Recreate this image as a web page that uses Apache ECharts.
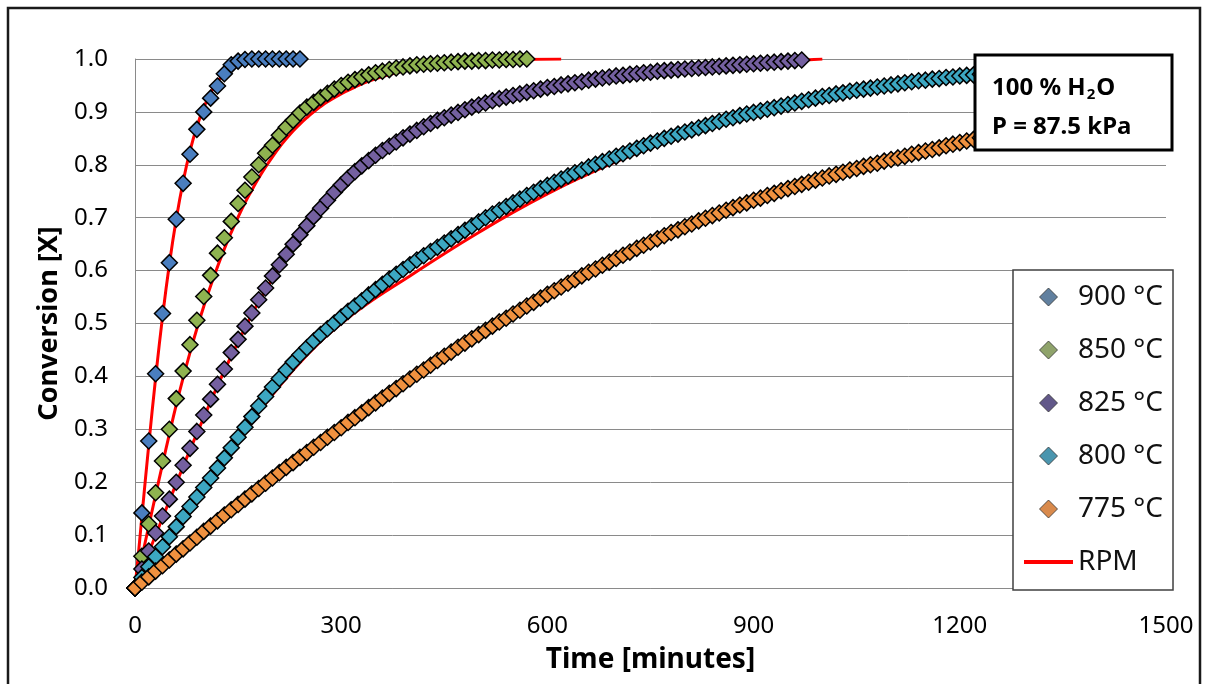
<!DOCTYPE html>
<html>
<head>
<meta charset="utf-8">
<title>Conversion vs time</title>
<script src="https://cdn.jsdelivr.net/npm/echarts@6/dist/echarts.min.js"></script>
<style>
  html, body { margin: 0; padding: 0; background: #fff; }
  #chart { width: 1207px; height: 684px; }
</style>
</head>
<body>
<div id="chart"></div>
<script>
// measured points, one every 10 minutes starting at t = 0
const STEP = 10

const x900 = [0, 0.142, 0.278, 0.405, 0.519, 0.615, 0.697, 0.765, 0.820, 0.867, 0.900, 0.926, 0.949, 0.972, 0.989, 0.996, 0.999,
  1, 1, 1, 1, 1, 1, 1, 1]

const x850 = [0, 0.060, 0.121, 0.180, 0.240, 0.300, 0.358, 0.410, 0.460, 0.506,
  0.551, 0.591, 0.633, 0.662, 0.693, 0.727, 0.752, 0.777, 0.800, 0.822,
  0.837, 0.856, 0.871, 0.884, 0.898, 0.909, 0.918, 0.927, 0.935, 0.943,
  0.950, 0.956, 0.961, 0.966, 0.970, 0.974, 0.977, 0.980, 0.983, 0.985,
  0.987, 0.989, 0.990, 0.991, 0.992, 0.993, 0.994, 0.995, 0.996, 0.996,
  0.997, 0.997, 0.998, 0.998, 0.999, 0.999, 1.000, 1.000]

const x825 = [0, 0.036, 0.070, 0.104, 0.136, 0.168, 0.200, 0.232, 0.264, 0.296,
  0.327, 0.357, 0.385, 0.414, 0.445, 0.470, 0.495, 0.520, 0.545, 0.567,
  0.590, 0.611, 0.631, 0.650, 0.668, 0.685, 0.702, 0.718, 0.733, 0.748,
  0.762, 0.775, 0.787, 0.798, 0.808, 0.818, 0.827, 0.835, 0.843, 0.851,
  0.858, 0.865, 0.872, 0.878, 0.884, 0.889, 0.894, 0.899, 0.904, 0.909,
  0.913, 0.917, 0.921, 0.925, 0.928, 0.931, 0.934, 0.937, 0.940, 0.943,
  0.946, 0.948, 0.951, 0.953, 0.955, 0.957, 0.960, 0.962, 0.964, 0.966,
  0.968, 0.969, 0.971, 0.972, 0.974, 0.975, 0.977, 0.978, 0.979, 0.980,
  0.981, 0.982, 0.983, 0.984, 0.985, 0.986, 0.987, 0.988, 0.989, 0.990,
  0.991, 0.992, 0.993, 0.994, 0.995, 0.996, 0.997, 0.998]

const x800 = [0, 0.020, 0.040, 0.059, 0.078, 0.097, 0.116, 0.135, 0.154, 0.172,
  0.190, 0.208, 0.227, 0.246, 0.265, 0.285, 0.304, 0.324, 0.344, 0.362,
  0.380, 0.396, 0.412, 0.427, 0.441, 0.454, 0.467, 0.479, 0.490, 0.501,
  0.512, 0.523, 0.533, 0.543, 0.554, 0.564, 0.574, 0.584, 0.593, 0.602,
  0.611, 0.620, 0.628, 0.636, 0.644, 0.652, 0.660, 0.668, 0.676, 0.684,
  0.692, 0.700, 0.707, 0.714, 0.721, 0.728, 0.735, 0.742, 0.748, 0.755,
  0.761, 0.767, 0.773, 0.779, 0.785, 0.790, 0.796, 0.801, 0.806, 0.811,
  0.816, 0.821, 0.826, 0.831, 0.836, 0.841, 0.845, 0.850, 0.854, 0.858,
  0.862, 0.866, 0.870, 0.874, 0.878, 0.882, 0.886, 0.889, 0.893, 0.896,
  0.899, 0.902, 0.905, 0.908, 0.911, 0.914, 0.917, 0.920, 0.923, 0.926,
  0.929, 0.931, 0.934, 0.936, 0.939, 0.941, 0.943, 0.945, 0.947, 0.949,
  0.951, 0.953, 0.955, 0.957, 0.959, 0.960, 0.962, 0.963, 0.965, 0.966,
  0.968, 0.969, 0.970, 0.971, 0.972]

const x775 = [0, 0.011, 0.021, 0.032, 0.042, 0.053, 0.064, 0.074, 0.085, 0.096,
  0.107, 0.117, 0.127, 0.138, 0.148, 0.158, 0.168, 0.178, 0.188, 0.198,
  0.208, 0.218, 0.228, 0.237, 0.247, 0.256, 0.266, 0.275, 0.285, 0.294,
  0.303, 0.313, 0.322, 0.331, 0.341, 0.350, 0.359, 0.368, 0.377, 0.386,
  0.395, 0.404, 0.412, 0.421, 0.430, 0.438, 0.446, 0.455, 0.463, 0.471,
  0.479, 0.487, 0.495, 0.503, 0.510, 0.518, 0.525, 0.533, 0.540, 0.548,
  0.555, 0.562, 0.569, 0.576, 0.583, 0.590, 0.597, 0.603, 0.610, 0.616,
  0.623, 0.629, 0.635, 0.642, 0.648, 0.654, 0.660, 0.666, 0.672, 0.677,
  0.683, 0.688, 0.694, 0.699, 0.704, 0.709, 0.714, 0.719, 0.724, 0.728,
  0.733, 0.737, 0.742, 0.746, 0.751, 0.755, 0.759, 0.763, 0.767, 0.771,
  0.775, 0.779, 0.782, 0.786, 0.790, 0.793, 0.797, 0.800, 0.803, 0.807,
  0.810, 0.813, 0.816, 0.820, 0.823, 0.826, 0.829, 0.832, 0.836, 0.839,
  0.842, 0.845, 0.848, 0.851, 0.854]

// RPM model curves
const rpmT900 = [0, 5, 10, 20, 30, 40, 50, 60, 70, 80, 90, 100, 110, 120, 130, 140, 150, 160, 180, 200, 250]
const rpm900 = [0, 0.065, 0.135, 0.270, 0.397, 0.512, 0.612, 0.697, 0.768, 0.826, 0.872, 0.908, 0.936, 0.957, 0.973, 0.984, 0.991, 0.995, 0.999, 1, 1]

const rpmT850 = [0, 10, 20, 30, 40, 50, 60, 70, 80, 90, 100, 110, 120, 130, 140, 150, 160, 170, 180, 190,
  200, 210, 220, 230, 240, 250, 260, 270, 280, 290, 300, 320, 340, 360, 380, 400, 430, 460, 500, 550, 620]
const rpm850 = [0, 0.058, 0.117, 0.176, 0.234, 0.291, 0.346, 0.397, 0.445, 0.490,
  0.532, 0.571, 0.607, 0.641, 0.672, 0.701, 0.728, 0.752, 0.775, 0.796,
  0.815, 0.833, 0.849, 0.864, 0.877, 0.889, 0.900, 0.910, 0.919, 0.927,
  0.934, 0.947, 0.958, 0.967, 0.974, 0.980, 0.987, 0.992, 0.996, 0.999, 1.0]

const rpmT825 = [0, 50, 100, 150, 200, 250, 300, 350, 400, 450, 500, 550, 600, 650, 700, 750, 800, 850, 900, 950, 1000]
const rpm825 = [0, 0.165, 0.322, 0.465, 0.585, 0.681, 0.757, 0.814, 0.857, 0.890, 0.915, 0.934, 0.949, 0.960, 0.970, 0.977, 0.983, 0.988, 0.992, 0.996, 1.0]

const rpmT800 = [0, 50, 100, 150, 200, 250, 300, 350, 400, 450, 500, 550, 600, 650, 700, 750, 800, 900, 1000, 1100, 1200, 1240]
const rpm800 = [0, 0.097, 0.190, 0.280, 0.365, 0.440, 0.500, 0.548, 0.590, 0.632, 0.672, 0.710, 0.745, 0.777, 0.806, 0.832, 0.856, 0.895, 0.926, 0.948, 0.965, 0.970]

const rpmT775 = [0, 100, 200, 300, 400, 500, 600, 700, 800, 900, 1000, 1100, 1200, 1240]
const rpm775 = [0, 0.105, 0.205, 0.300, 0.391, 0.475, 0.551, 0.619, 0.679, 0.730, 0.772, 0.808, 0.840, 0.852]

const names = ['900 °C', '850 °C', '825 °C', '800 °C', '775 °C']
const colors = ['#4a7ebf', '#8fb350', '#7460a0', '#3ca7c2', '#f0913f']
const legendColors = ['#61809f', '#8fa36b', '#625889', '#4a95ae', '#d98a4c']
const xTicks = { min: 0, max: 1500, interval: 300 }
const yTicks = { min: 0, max: 1, interval: 0.1 }

const FONT = '"Noto Sans", "Open Sans", sans-serif'
// square path so the legend keeps it as a diamond, not a stretched rhombus
const DIAMOND = 'path://M5,0 L10,5 L5,10 L0,5 Z'

function measured(vals) {
  return vals.map((v, i) => [i * STEP, v])
}
function pairs(ts, vs) {
  return ts.map((t, i) => [t, vs[i]])
}

const measuredSets = [x900, x850, x825, x800, x775]
const rpmSets = [[rpmT900, rpm900], [rpmT850, rpm850], [rpmT825, rpm825], [rpmT800, rpm800], [rpmT775, rpm775]]

const series = []
// red model lines go under the markers
rpmSets.forEach(function(s) {
  series.push({
    name: 'RPM',
    type: 'line',
    data: pairs(s[0], s[1]),
    smooth: true,
    symbol: 'none',
    color: '#ff0000',
    lineStyle: { color: '#ff0000', width: 3 },
    z: 1
  })
})
measuredSets.forEach(function(vals, i) {
  series.push({
    name: names[i],
    type: 'scatter',
    data: measured(vals),
    symbol: 'diamond',
    symbolSize: 16,
    itemStyle: { color: colors[i], borderColor: '#000', borderWidth: 1.5, opacity: 1 },
    z: 2 + i
  })
})

const legendData = names.map(function(n, i) {
  return {
    name: n,
    icon: DIAMOND,
    itemStyle: { color: legendColors[i], borderColor: '#333', borderWidth: 0.8 }
  }
})
// only the red stroke for the model entry
legendData.push({ name: 'RPM', itemStyle: { opacity: 0 }, lineStyle: { color: '#ff0000', width: 4 } })

const option = {
  animation: false,
  backgroundColor: '#fff',
  grid: { left: 135, top: 59, width: 1031, height: 529 },
  xAxis: {
    type: 'value',
    min: xTicks.min,
    max: xTicks.max,
    interval: xTicks.interval,
    name: 'Time [minutes]',
    nameLocation: 'middle',
    nameGap: 58,
    nameTextStyle: { fontFamily: FONT, fontSize: 28, fontWeight: 'bold', color: '#000' },
    axisLine: { show: true, lineStyle: { color: '#8a8a8a', width: 1 } },
    axisTick: { show: false },
    splitLine: { show: false },
    axisLabel: {
      margin: 26,
      fontFamily: FONT,
      fontSize: 24,
      color: '#000',
      formatter: function(v) { return String(v) }
    }
  },
  yAxis: {
    type: 'value',
    min: yTicks.min,
    max: yTicks.max,
    interval: yTicks.interval,
    name: 'Conversion [X]',
    nameLocation: 'middle',
    nameGap: 64,
    nameTextStyle: { fontFamily: FONT, fontSize: 27, fontWeight: 'bold', color: '#000' },
    axisLine: { show: true, lineStyle: { color: '#8a8a8a', width: 1 } },
    axisTick: { show: false },
    splitLine: { show: true, lineStyle: { color: '#8a8a8a', width: 1 } },
    axisLabel: {
      margin: 27,
      fontFamily: FONT,
      fontSize: 24,
      color: '#000',
      formatter: function(v) { return v.toFixed(1) }
    }
  },
  legend: {
    orient: 'vertical',
    left: 1013,
    top: 270,
    padding: [12, 10, 13, 9],
    itemWidth: 49,
    itemHeight: 18,
    itemGap: 23,
    symbolKeepAspect: true,
    backgroundColor: '#fff',
    borderColor: '#404040',
    borderWidth: 1.5,
    borderRadius: 0,
    textStyle: { fontFamily: FONT, fontSize: 28, color: '#111', lineHeight: 30 },
    data: legendData
  },
  series: series,
  graphic: [
    // frame round the whole chart
    {
      type: 'rect',
      shape: { x: 8, y: 8, width: 1192, height: 690 },
      style: { fill: 'none', stroke: '#1a1a1a', lineWidth: 2.5 },
      silent: true,
      z: 100
    },
    // condition box
    {
      type: 'rect',
      shape: { x: 975, y: 55, width: 197, height: 95 },
      style: { fill: '#fff', stroke: '#000', lineWidth: 3 },
      z: 100
    },
    {
      type: 'text',
      x: 992,
      y: 88,
      style: {
        text: '{a|100 % H}{s|2}{a|O}',
        verticalAlign: 'middle',
        rich: {
          a: { fontFamily: FONT, fontSize: 24, fontWeight: 'bold', fill: '#000', lineHeight: 30 },
          s: { fontFamily: FONT, fontSize: 15, fontWeight: 'bold', fill: '#000', lineHeight: 30, padding: [14, 1, 0, 1] }
        }
      },
      z: 101
    },
    {
      type: 'text',
      x: 992,
      y: 127,
      style: {
        text: 'P = 87.5 kPa',
        verticalAlign: 'middle',
        fontFamily: FONT,
        fontSize: 24,
        fontWeight: 'bold',
        fill: '#000'
      },
      z: 101
    }
  ]
}

const myChart = echarts.init(document.getElementById('chart'))
myChart.setOption(option)
window.addEventListener('resize', function() {
  myChart.resize()
})
</script>
</body>
</html>
